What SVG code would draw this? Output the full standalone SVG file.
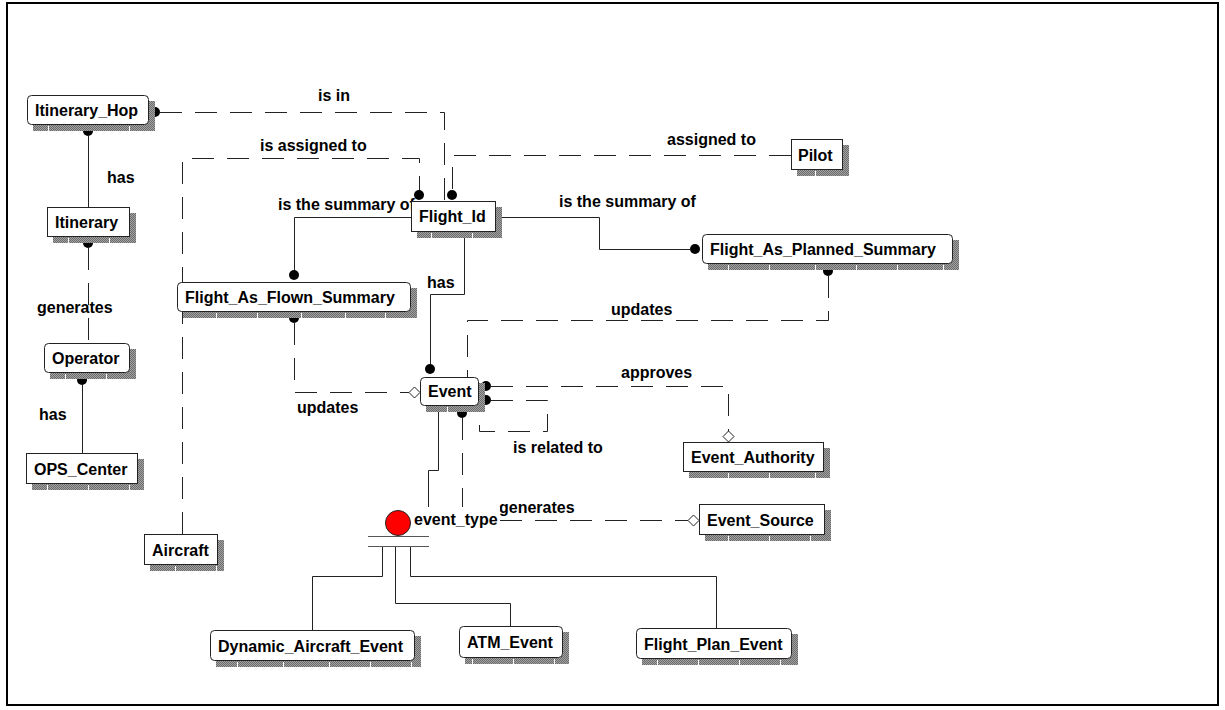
<svg xmlns="http://www.w3.org/2000/svg" width="1225" height="710" viewBox="0 0 1225 710">
  <defs>
    <!-- dithered grey used for entity drop shadows -->
    <pattern id="dither" width="2" height="2" patternUnits="userSpaceOnUse">
      <rect width="2" height="2" fill="#a2a2a2"/>
      <rect width="1" height="1" fill="#6c6c6c"/>
      <rect x="1" y="1" width="1" height="1" fill="#6c6c6c"/>
    </pattern>
  </defs>
  <style>
    .frame { fill: none; stroke: #000; stroke-width: 2; }
    .box { fill: #fff; stroke: #222; stroke-width: 1; }
    .shadow { fill: url(#dither); }
    .sep { stroke: #fff; stroke-width: 1; }
    .txt { font-family: "Liberation Sans", Arial, sans-serif; font-weight: bold; font-size: 16px; fill: #000; }
    .mid { text-anchor: middle; }
    .rel { fill: none; stroke: #222; stroke-width: 1; }
    .dash { stroke-dasharray: 22 13; }
    .dot { fill: #000; }
    .dia { fill: #fff; stroke: #222; stroke-width: 1; }
    .bar { stroke: #555; stroke-width: 1; }
  </style>

  <rect width="1225" height="710" fill="#fff"/>
  <rect class="frame" x="7" y="3" width="1211" height="702"/>

  <!-- relationships -->
  <g id="connectors">
    <path class="rel dash" d="M160,112.5 H444.5 V201"/>
    <path class="rel dash" d="M182.5,534 V158.5 H419.5 V190"/>
    <path class="rel dash" d="M791,155.5 H452.5 V190"/>
    <path class="rel" d="M496,217.5 H599.5 V249.5 H690"/>
    <path class="rel" d="M411,217.5 H294.5 V270"/>
    <path class="rel" d="M464.5,232 V294.5 H430.5 V364"/>
    <path class="rel dash" d="M294.5,323 V392.5 H409"/>
    <path class="rel dash" d="M828.5,276 V320.5 H467.5 V377"/>
    <path class="rel dash" d="M491,386.5 H728.5 V431"/>
    <path class="rel dash" d="M491,400.5 H547.5 V431.5 H479.5 V406"/>
    <path class="rel dash" d="M462.5,418 V520.5 H688"/>
    <path class="rel" d="M438.5,406 V470.5 H428.5 V511"/>
    <path class="rel" d="M88.5,136 V207"/>
    <path class="rel dash" d="M88.5,248 V343"/>
    <path class="rel" d="M82.5,385 V453"/>
    <path class="rel" d="M382.5,546 V576.5 H312.5 V630"/>
    <path class="rel" d="M395.5,546 V603.5 H510.5 V626"/>
    <path class="rel" d="M410.5,546 V576.5 H716.5 V628"/>

    <circle class="dot" cx="155" cy="112" r="5"/>
    <circle class="dot" cx="88" cy="131" r="5"/>
    <circle class="dot" cx="88" cy="243" r="5"/>
    <circle class="dot" cx="82" cy="380" r="5"/>
    <circle class="dot" cx="419" cy="195" r="5"/>
    <circle class="dot" cx="452" cy="195" r="5"/>
    <circle class="dot" cx="695" cy="249" r="5"/>
    <circle class="dot" cx="294" cy="275" r="5"/>
    <circle class="dot" cx="294" cy="318" r="5"/>
    <circle class="dot" cx="430" cy="369" r="5"/>
    <circle class="dot" cx="828" cy="271" r="5"/>
    <circle class="dot" cx="486" cy="386" r="5"/>
    <circle class="dot" cx="486" cy="400" r="5"/>
    <circle class="dot" cx="462" cy="413" r="5"/>

    <polygon class="dia" points="409,392.5 414.5,387 420,392.5 414.5,398"/>
    <polygon class="dia" points="723,436.5 728.5,431 734,436.5 728.5,442"/>
    <polygon class="dia" points="688,520.5 693.5,515 699,520.5 693.5,526"/>

    <text class="txt" x="318" y="101">is in</text>
    <text class="txt" x="260" y="151">is assigned to</text>
    <text class="txt" x="107" y="183">has</text>
    <text class="txt" x="278" y="210">is the summary of</text>
    <text class="txt" x="559" y="207">is the summary of</text>
    <text class="txt" x="667" y="145">assigned to</text>
    <text class="txt" x="427" y="288">has</text>
    <text class="txt" x="611" y="315">updates</text>
    <text class="txt" x="297" y="413">updates</text>
    <text class="txt" x="621" y="378">approves</text>
    <text class="txt" x="513" y="453">is related to</text>
    <text class="txt" x="499" y="513">generates</text>
    <text class="txt" x="37" y="313">generates</text>
    <text class="txt" x="39" y="420">has</text>
  </g>

  <!-- subtype discriminator -->
  <g id="event_type">
    <rect x="412" y="507" width="88" height="22" fill="#fff"/>
    <circle cx="398" cy="523" r="12.5" fill="#f00" stroke="#222" stroke-width="1"/>
    <path class="bar" d="M368,536.5 H429 M368,546.5 H429"/>
    <text class="txt" x="414" y="525">event_type</text>
  </g>

  <!-- entities -->
  <g id="Itinerary_Hop">
    <rect class="shadow" x="33" y="101" width="122" height="30"/>
    <path class="sep" d="M48.5,126 V131 M129.5,126 V131"/>
    <rect class="box" x="27.5" y="95.5" width="121" height="29" rx="4"/>
    <text class="txt" x="35" y="116">Itinerary_Hop</text>
  </g>

  <g id="Itinerary">
    <rect class="shadow" x="53" y="213" width="83" height="30"/>
    <path class="sep" d="M68.5,238 V243 M109.5,238 V243"/>
    <rect class="box" x="47.5" y="207.5" width="82" height="29"/>
    <text class="txt" x="55" y="228">Itinerary</text>
  </g>

  <g id="Operator">
    <rect class="shadow" x="50" y="349" width="86" height="30"/>
    <path class="sep" d="M65.5,374 V379 M106.5,374 V379"/>
    <rect class="box" x="44.5" y="343.5" width="85" height="29" rx="4"/>
    <text class="txt" x="52" y="364">Operator</text>
  </g>

  <g id="OPS_Center">
    <rect class="shadow" x="32" y="459" width="112" height="31"/>
    <path class="sep" d="M47.5,485 V490 M88.5,485 V490 M129.5,485 V490"/>
    <rect class="box" x="26.5" y="453.5" width="111" height="30"/>
    <text class="txt" x="34" y="475">OPS_Center</text>
  </g>

  <g id="Aircraft">
    <rect class="shadow" x="150" y="540" width="74" height="31"/>
    <path class="sep" d="M175.5,566 V571 M216.5,566 V571"/>
    <rect class="box" x="144.5" y="534.5" width="73" height="30"/>
    <text class="txt" x="152" y="556">Aircraft</text>
  </g>

  <g id="Flight_Id">
    <rect class="shadow" x="417" y="207" width="85" height="31"/>
    <path class="sep" d="M431.5,233 V238 M472.5,233 V238"/>
    <rect class="box" x="411.5" y="201.5" width="84" height="30"/>
    <text class="txt" x="419" y="222">Flight_Id</text>
  </g>

  <g id="Pilot">
    <rect class="shadow" x="797" y="145" width="52" height="31"/>
    <path class="sep" d="M815.5,171 V176"/>
    <rect class="box" x="791.5" y="139.5" width="51" height="30"/>
    <text class="txt" x="798" y="161">Pilot</text>
  </g>

  <g id="Flight_As_Planned_Summary">
    <rect class="shadow" x="708" y="240" width="251" height="30"/>
    <path class="sep" d="M728.5,265 V270 M769.5,265 V270 M815.5,265 V270 M856.5,265 V270 M897.5,265 V270 M943.5,265 V270"/>
    <rect class="box" x="702.5" y="234.5" width="250" height="29" rx="4"/>
    <text class="txt" x="710" y="255">Flight_As_Planned_Summary</text>
  </g>

  <g id="Flight_As_Flown_Summary">
    <rect class="shadow" x="183" y="288" width="234" height="30"/>
    <path class="sep" d="M216.5,313 V318 M257.5,313 V318 M301.5,313 V318 M345.5,313 V318 M385.5,313 V318"/>
    <rect class="box" x="177.5" y="282.5" width="233" height="29" rx="4"/>
    <text class="txt" x="185" y="303">Flight_As_Flown_Summary</text>
  </g>

  <g id="Event">
    <rect class="shadow" x="426" y="383" width="59" height="29"/>
    <path class="sep" d="M447.5,407 V412"/>
    <rect class="box" x="420.5" y="377.5" width="58" height="28" rx="4"/>
    <text class="txt" x="428" y="397">Event</text>
  </g>

  <g id="Event_Authority">
    <rect class="shadow" x="689" y="448" width="141" height="30"/>
    <path class="sep" d="M728.5,473 V478 M769.5,473 V478 M815.5,473 V478"/>
    <rect class="box" x="683.5" y="442.5" width="140" height="29"/>
    <text class="txt" x="691" y="463">Event_Authority</text>
  </g>

  <g id="Event_Source">
    <rect class="shadow" x="705" y="510" width="126" height="31"/>
    <path class="sep" d="M728.5,536 V541 M769.5,536 V541 M810.5,536 V541"/>
    <rect class="box" x="699.5" y="504.5" width="125" height="30"/>
    <text class="txt" x="707" y="526">Event_Source</text>
  </g>

  <g id="Dynamic_Aircraft_Event">
    <rect class="shadow" x="216" y="636" width="205" height="31"/>
    <path class="sep" d="M237.5,662 V667 M283.5,662 V667 M329.5,662 V667 M370.5,662 V667 M411.5,662 V667"/>
    <rect class="box" x="210.5" y="630.5" width="204" height="30" rx="4"/>
    <text class="txt" x="218" y="652">Dynamic_Aircraft_Event</text>
  </g>

  <g id="ATM_Event">
    <rect class="shadow" x="465" y="632" width="104" height="32"/>
    <path class="sep" d="M472.5,659 V664 M513.5,659 V664 M554.5,659 V664"/>
    <rect class="box" x="459.5" y="626.5" width="103" height="31" rx="4"/>
    <text class="txt" x="467" y="648">ATM_Event</text>
  </g>

  <g id="Flight_Plan_Event">
    <rect class="shadow" x="642" y="634" width="156" height="31"/>
    <path class="sep" d="M657.5,660 V665 M698.5,660 V665 M739.5,660 V665 M780.5,660 V665"/>
    <rect class="box" x="636.5" y="628.5" width="155" height="30" rx="4"/>
    <text class="txt" x="644" y="650">Flight_Plan_Event</text>
  </g>
</svg>
